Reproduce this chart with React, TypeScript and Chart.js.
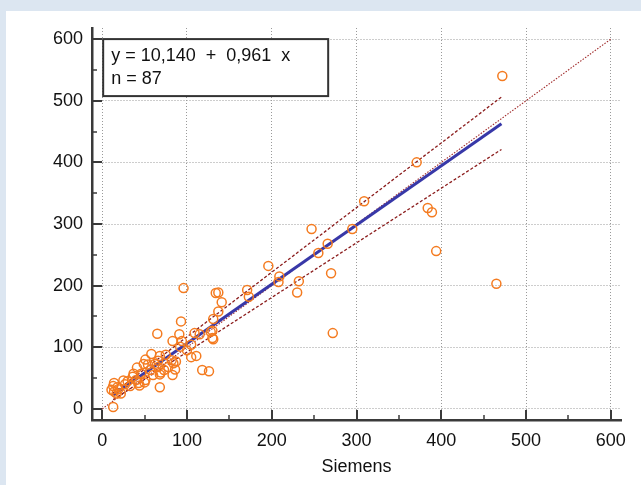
import React, { useEffect, useRef } from "react";
import { Chart, registerables } from "chart.js";

Chart.register(...registerables);

// Scatter data: Siemens (x) vs comparison method (y)
const pointsX = [
  472, 371, 309, 384, 389, 295, 247, 266, 255, 394, 196, 270, 208, 209, 232, 230, 465, 272,
  96, 171, 173, 134, 137, 141, 137, 131, 93, 128, 130, 131, 109, 115, 111, 118, 126, 65, 91, 83, 92, 130,
  58, 68, 51, 49, 54, 66, 82, 87, 41, 66, 84, 78, 86, 73, 37, 46, 68, 83, 51, 25, 14, 44, 68, 43, 50,
  13, 11, 19, 14, 22, 33, 13, 69, 30, 18, 27, 57, 62, 36, 75, 100, 94, 105, 40, 60, 17, 105,
];
const pointsY = [
  540, 400, 337, 326, 319, 292, 292, 268, 253, 256, 232, 220, 206, 215, 207, 189, 203, 123,
  196, 193, 182, 188, 189, 173, 158, 146, 142, 125, 115, 113, 123, 121, 86, 63, 61, 122, 121, 110, 101, 127,
  89, 86, 80, 73, 72, 78, 79, 77, 67, 68, 74, 68, 64, 63, 57, 57, 56, 55, 47, 46, 42, 38, 35, 42, 43,
  37, 31, 32, 28, 25, 37, 3, 59, 45, 35, 40, 63, 73, 52, 88, 95, 110, 104, 47, 55, 25, 84,
];

// Line end points
const fitX = [13, 471];
const regressionY = [22.6, 462.8];
const upperCIY = [25.6, 506];
const lowerCIY = [15, 421];
const identityX = [0, 600];
const identityY = [0, 600];

const tickValues = [0, 100, 200, 300, 400, 500, 600];
const minorTickValues = [50, 150, 250, 350, 450, 550];

const equationText = "y = 10,140  +  0,961  x";
const countText = "n = 87";
const xTitle = "Siemens";

const FONT = "'Liberation Sans', Arial, sans-serif";

const toXY = (xs: number[], ys: number[]) => xs.map((x, i) => ({ x, y: ys[i] }));

export default function App() {
  const ref = useRef<HTMLCanvasElement>(null);

  useEffect(() => {
    const canvas = ref.current;
    if (!canvas) return;

    const overlay = {
      id: "overlay",
      afterDraw(chart: any) {
        const { ctx, chartArea, scales } = chart;
        const xs = scales.x;
        const ys = scales.y;
        ctx.save();
        ctx.strokeStyle = "#3a3a3a";
        // major ticks (inward)
        ctx.lineWidth = 2;
        tickValues.forEach((v) => {
          const px = Math.round(xs.getPixelForValue(v));
          ctx.beginPath();
          ctx.moveTo(px, chartArea.bottom);
          ctx.lineTo(px, chartArea.bottom - 10);
          ctx.stroke();
          const py = Math.round(ys.getPixelForValue(v));
          ctx.beginPath();
          ctx.moveTo(chartArea.left, py);
          ctx.lineTo(chartArea.left + 10, py);
          ctx.stroke();
        });
        ctx.lineWidth = 1.5;
        minorTickValues.forEach((v) => {
          const px = Math.round(xs.getPixelForValue(v));
          ctx.beginPath();
          ctx.moveTo(px, chartArea.bottom);
          ctx.lineTo(px, chartArea.bottom - 5);
          ctx.stroke();
          const py = Math.round(ys.getPixelForValue(v));
          ctx.beginPath();
          ctx.moveTo(chartArea.left, py);
          ctx.lineTo(chartArea.left + 5, py);
          ctx.stroke();
        });
        // equation box
        const bx = xs.getPixelForValue(0) + 1;
        const by = ys.getPixelForValue(600);
        const bw = 225;
        const bh = 57;
        ctx.fillStyle = "#ffffff";
        ctx.fillRect(bx, by, bw, bh);
        ctx.lineWidth = 2;
        ctx.strokeStyle = "#333333";
        ctx.strokeRect(bx, by, bw, bh);
        ctx.fillStyle = "#111111";
        ctx.font = `18px ${FONT}`;
        ctx.textBaseline = "middle";
        ctx.textAlign = "left";
        ctx.fillText(equationText, bx + 8, by + 17);
        ctx.fillText(countText, bx + 8, by + 40);
        ctx.restore();
      },
    };

    const chart = new Chart(canvas, {
      type: "scatter",
      data: {
        datasets: [
          {
            label: "data",
            data: toXY(pointsX, pointsY),
            showLine: false,
            pointRadius: 4.5,
            pointHoverRadius: 4.5,
            pointBorderWidth: 1.5,
            pointBorderColor: "#f47b20",
            pointBackgroundColor: "rgba(0,0,0,0)",
          },
          {
            label: "regression",
            data: toXY(fitX, regressionY),
            showLine: true,
            borderColor: "#3838a8",
            borderWidth: 3,
            pointRadius: 0,
          },
          {
            label: "upper",
            data: toXY(fitX, upperCIY),
            showLine: true,
            borderColor: "#8b1c1c",
            borderWidth: 1.3,
            borderDash: [3, 2],
            pointRadius: 0,
          },
          {
            label: "lower",
            data: toXY(fitX, lowerCIY),
            showLine: true,
            borderColor: "#8b1c1c",
            borderWidth: 1.3,
            borderDash: [3, 2],
            pointRadius: 0,
          },
          {
            label: "identity",
            data: toXY(identityX, identityY),
            showLine: true,
            borderColor: "#a02a2a",
            borderWidth: 1.1,
            borderDash: [1.5, 1.5],
            pointRadius: 0,
          },
        ],
      },
      options: {
        responsive: false,
        animation: false,
        layout: { padding: { top: 28, right: 20, left: 0, bottom: 0 } },
        plugins: {
          legend: { display: false },
          tooltip: { enabled: false },
        },
        scales: {
          x: {
            type: "linear",
            min: -12,
            max: 612,
            afterBuildTicks: (scale: any) => {
              scale.ticks = tickValues.map((v) => ({ value: v }));
            },
            afterFit: (scale: any) => {
              scale.height = 65;
            },
            grid: {
              color: "#9a9a9a",
              lineWidth: 1,
              drawTicks: false,
            },
            border: { display: true, color: "#3a3a3a", width: 2.5, dash: [1, 2] },
            ticks: {
              padding: 10,
              color: "#111",
              font: { family: FONT, size: 18 },
              maxRotation: 0,
              autoSkip: false,
            },
            title: {
              display: true,
              text: xTitle,
              color: "#111",
              font: { family: FONT, size: 18 },
              padding: { top: 0, bottom: 7 },
            },
          },
          y: {
            type: "linear",
            min: -18,
            max: 618,
            afterBuildTicks: (scale: any) => {
              scale.ticks = tickValues.map((v) => ({ value: v }));
            },
            afterFit: (scale: any) => {
              scale.width = 92;
            },
            grid: {
              color: "#9a9a9a",
              lineWidth: 1,
              drawTicks: false,
            },
            border: { display: true, color: "#3a3a3a", width: 2.5, dash: [1, 2] },
            ticks: {
              padding: 9,
              color: "#111",
              font: { family: FONT, size: 18 },
              autoSkip: false,
            },
          },
        },
      },
      plugins: [overlay],
    } as any);

    return () => chart.destroy();
  }, []);

  return (
    <div
      style={{
        position: "fixed",
        left: 0,
        top: 0,
        width: 641,
        height: 485,
        background: "#dce6f1",
        overflow: "hidden",
      }}
    >
      <div
        style={{
          position: "absolute",
          left: 6,
          top: 11,
          right: 0,
          bottom: 0,
          background: "#ffffff",
        }}
      />
      <canvas
        ref={ref}
        width={641}
        height={485}
        style={{ position: "absolute", left: 0, top: 0, width: 641, height: 485 }}
      />
    </div>
  );
}
